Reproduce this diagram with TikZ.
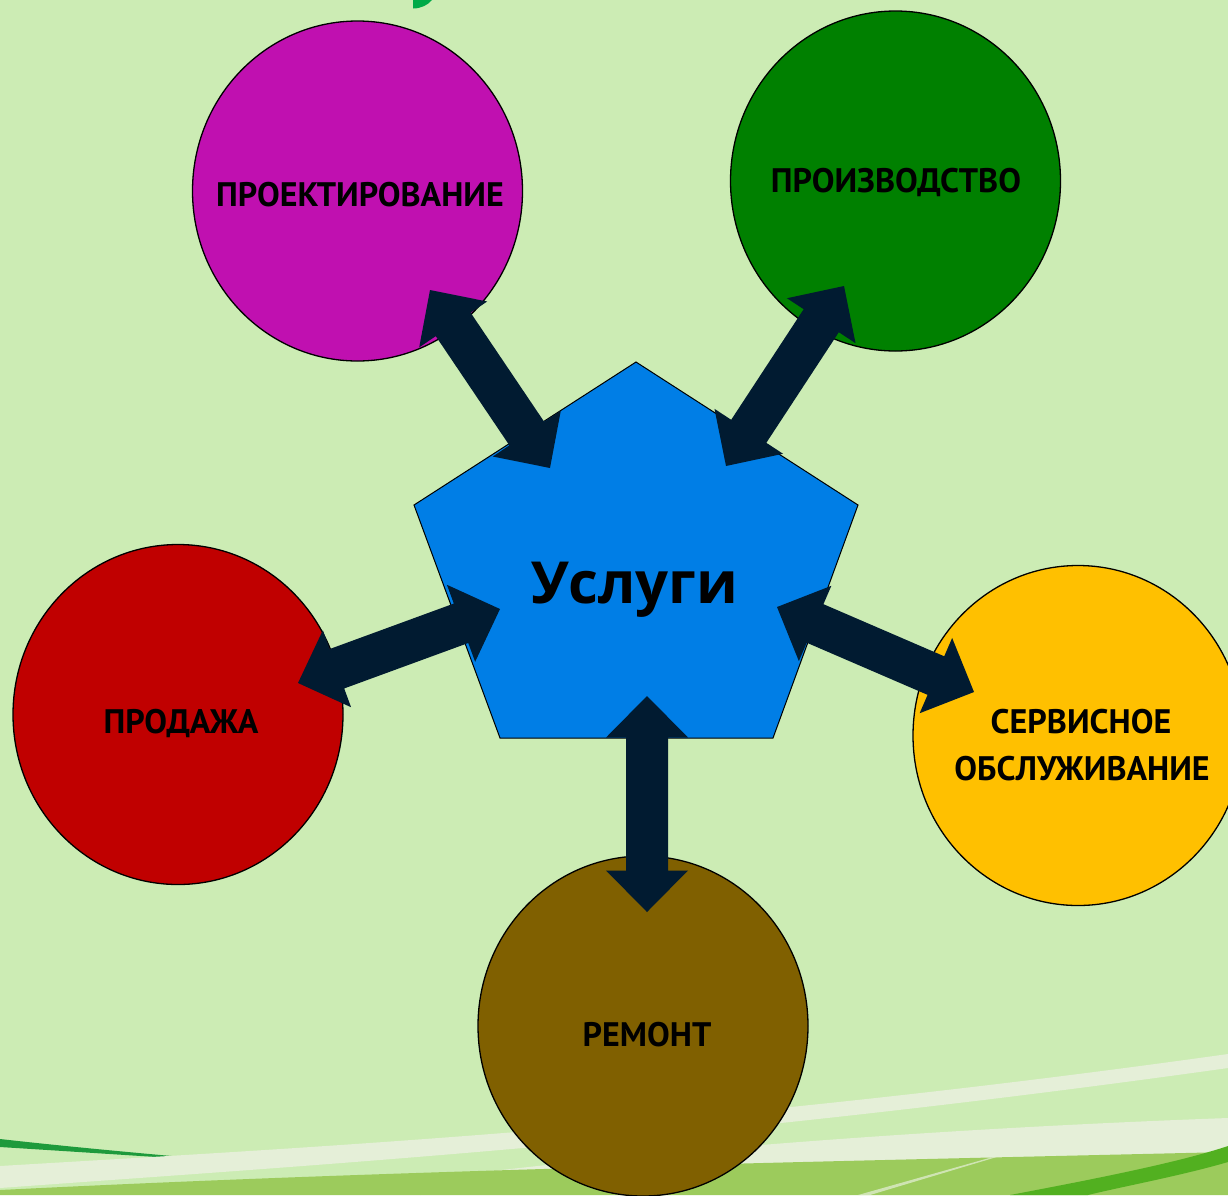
\documentclass[tikz,border=0pt]{standalone}
\usepackage{fontspec}
\setmainfont{PT Sans}
\newfontfamily\bigfont{Open Sans}
\usetikzlibrary{calc,shapes.geometric}
\definecolor{bg}{HTML}{CCECB4}
\definecolor{cmag}{HTML}{C010B0}
\definecolor{cgreen}{HTML}{008000}
\definecolor{cred}{HTML}{C00000}
\definecolor{cbrown}{HTML}{806000}
\definecolor{cyellow}{HTML}{FFC000}
\definecolor{cblue}{HTML}{007EE6}
\definecolor{navy}{HTML}{011B31}
\definecolor{pale}{HTML}{E5EFD8}
\definecolor{midgreen}{HTML}{9CCB5C}
\definecolor{bright}{HTML}{52B020}
\definecolor{darkstripe}{HTML}{1E9A3C}
\definecolor{titlegreen}{HTML}{00AA48}
\tikzset{
  circ/.style={ellipse, draw=black, line width=1.3pt, inner sep=0pt,
    minimum width=330pt, minimum height=340pt},
  lbl/.style={font=\fontsize{34}{40}\selectfont\bfseries, text=black, inner sep=0pt, anchor=base},
  bigl/.style={font=\bigfont\fontsize{58}{70}\selectfont\bfseries, text=black, inner sep=0pt, anchor=base},
  penta/.style={fill=cblue, draw=black, line width=1pt, line join=miter},
  arrowfill/.style={fill=navy}
}
\newcommand\dblarrow[2]{%
  \coordinate (h1) at ($(#1)!41.5pt!(#2)$);
  \coordinate (h2) at ($(#2)!41.5pt!(#1)$);
  \fill[arrowfill] (#1)
    -- ($(h1)!41pt!90:(#2)$) -- ($(h1)!21pt!90:(#2)$)
    -- ($(h2)!21pt!-90:(#1)$) -- ($(h2)!41pt!-90:(#1)$)
    -- (#2)
    -- ($(h2)!41pt!90:(#1)$) -- ($(h2)!21pt!90:(#1)$)
    -- ($(h1)!21pt!-90:(#2)$) -- ($(h1)!41pt!-90:(#2)$)
    -- cycle;}
\begin{document}
\begin{tikzpicture}[x=1pt,y=-1pt]
\useasboundingbox (0,0) rectangle (1228,1195);
\clip (0,0) rectangle (1228,1195);
\fill[bg] (0,0) rectangle (1228,1195);
% title fragment
\fill[titlegreen] (413,0) -- (413,8.5) .. controls (421,8.5) and (428,5) .. (432,0) -- cycle;
% bottom swooshes
\fill[darkstripe] (0,1139) .. controls (80,1148) and (170,1156) .. (252,1163)
  .. controls (170,1158) and (80,1152) .. (0,1147) -- cycle;
\fill[pale] (0,1166) .. controls (300,1148) and (700,1128) .. (1228,1054)
  -- (1228,1068) .. controls (700,1142) and (300,1166) .. (0,1188) -- cycle;
\fill[pale] (420,1180) .. controls (650,1150) and (950,1128) .. (1228,1118)
  -- (1228,1160) -- (420,1195) -- cycle;
\fill[midgreen] (0,1190) .. controls (400,1170) and (800,1162) .. (1228,1152)
  -- (1228,1195) -- (0,1195) -- cycle;
\fill[pale, opacity=0.7] (1060,1138) -- (858,1195) -- (870,1195) -- cycle;
\fill[bright] (1010,1195) .. controls (1100,1178) and (1180,1162) .. (1228,1146)
  -- (1228,1162) .. controls (1180,1176) and (1120,1187) .. (1088,1195) -- cycle;
% circles
\node[circ, fill=cmag] (proj) at (357.5,191) {};
\node[circ, fill=cgreen] (prod) at (895.5,181) {};
\node[circ, fill=cred] (sale) at (178,714.5) {};
\node[circ, fill=cbrown] (rep) at (643,1026) {};
\node[circ, fill=cyellow] (serv) at (1078,735.5) {};
% pentagon
\coordinate (p1) at (636,362);
\coordinate (p2) at (858,505);
\coordinate (p3) at (773,738);
\coordinate (p4) at (500,738);
\coordinate (p5) at (414,505);
\draw[penta] (p1) -- (p2) -- (p3) -- (p4) -- (p5) -- cycle;
% arrow end points
\coordinate (a1) at (430,290); \coordinate (b1) at (550,468);
\coordinate (a2) at (844,286); \coordinate (b2) at (726,466);
\coordinate (a3) at (298,683); \coordinate (b3) at (500,609);
\coordinate (a4) at (974,692); \coordinate (b4) at (777,607);
\coordinate (a5) at (647,912); \coordinate (b5) at (647,696);
\dblarrow{a1}{b1}
\dblarrow{a2}{b2}
\dblarrow{a3}{b3}
\dblarrow{a4}{b4}
\dblarrow{a5}{b5}
% texts
\node[bigl] (center) at (635,603) {Услуги};
\node[lbl] (tproj) at (360,206) {ПРОЕКТИРОВАНИЕ};
\node[lbl] (tprod) at (896,192) {ПРОИЗВОДСТВО};
\node[lbl] (tsale) at (181,733) {ПРОДАЖА};
\node[lbl] (trep) at (647,1046) {РЕМОНТ};
\node[lbl] (tserv1) at (1081,733) {СЕРВИСНОЕ};
\node[lbl] (tserv2) at (1082,780) {ОБСЛУЖИВАНИЕ};
\end{tikzpicture}
\end{document}
